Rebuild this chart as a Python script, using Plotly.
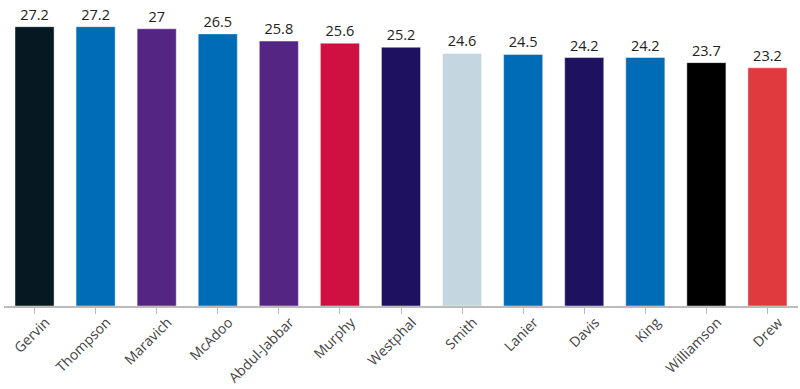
import plotly.graph_objects as go

players = ["Gervin", "Thompson", "Maravich", "McAdoo", "Abdul-Jabbar", "Murphy", "Westphal",
           "Smith", "Lanier", "Davis", "King", "Williamson", "Drew"]
points = [27.2, 27.2, 27, 26.5, 25.8, 25.6, 25.2, 24.6, 24.5, 24.2, 24.2, 23.7, 23.2]
colors = ["#061922", "#006BB6", "#552583", "#006BB6", "#552583", "#CE1141", "#1D1160",
          "#C4D6E0", "#006BB6", "#1D1160", "#006BB6", "#000000", "#E03A3E"]

fig = go.Figure(go.Bar(
    x=players, y=points,
    marker=dict(color=colors, line=dict(color="rgba(255,255,255,0.45)", width=1)),
    text=[f"{v:g}" for v in points], textposition="outside",
    textfont=dict(size=14.5, color="#222"), cliponaxis=False,
    hoverinfo="x+y",
))
fig.update_layout(
    width=800, height=389,
    margin=dict(l=4, r=2, t=0, b=83, autoexpand=False),
    plot_bgcolor="white", paper_bgcolor="white",
    font=dict(family="Open Sans, Noto Sans, sans-serif", color="#444"),
    bargap=0.36, showlegend=False,
)
fig.update_xaxes(
    tickangle=-45, tickfont=dict(size=14, color="#444"),
    showline=True, linecolor="#bbb", linewidth=1.5,
    ticks="outside", ticklen=6, tickcolor="#bbb", tickwidth=1,
    ticklabelshift=11, ticklabelstandoff=-5,
    showgrid=False, automargin=False,
)
fig.update_yaxes(range=[0, 29.8], visible=False, showgrid=False, automargin=False)
fig.write_html("out.html", config={"displayModeBar": False},
               post_script="document.body.style.margin='0';document.body.style.overflow='hidden';")
